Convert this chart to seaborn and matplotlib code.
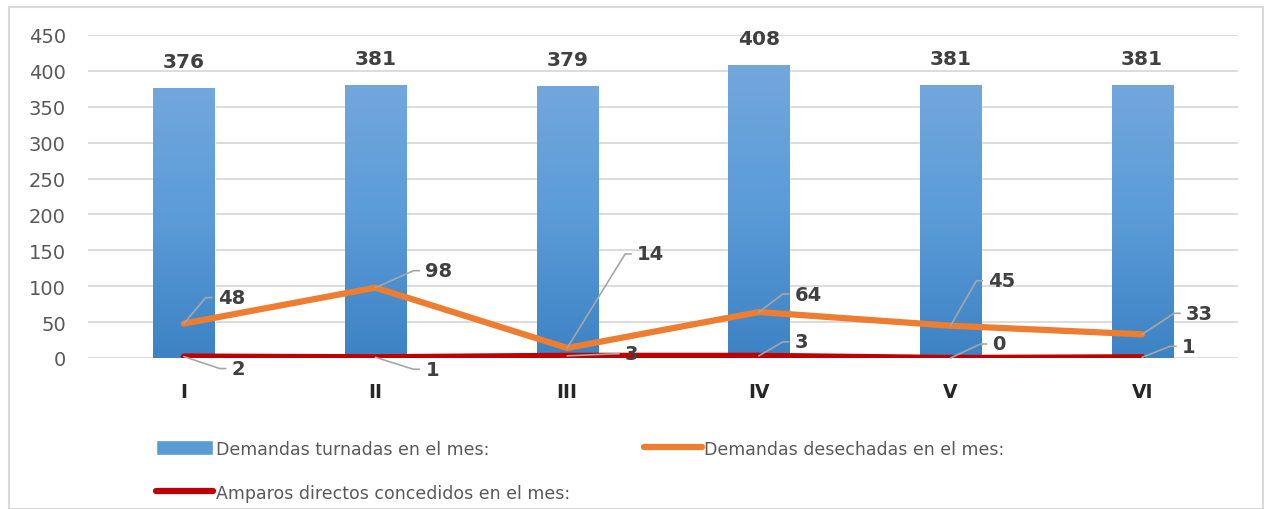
import numpy as np
import pandas as pd
import seaborn as sns
import matplotlib.pyplot as plt
from matplotlib.patches import Rectangle

# Datos
meses = ["I", "II", "III", "IV", "V", "VI"]
turnadas = [376, 381, 379, 408, 381, 381]
desechadas = [48, 98, 14, 64, 45, 33]
amparos = [2, 1, 3, 3, 0, 1]

# desplazamientos de las etiquetas (pixeles) respecto al punto
off_desechadas = [(34, 26), (50, 17), (70, 94), (36, 18), (38, 45), (44, 21)]
off_amparos = [(48, -12), (50, -12), (58, 2), (36, 14), (42, 14), (40, 11)]

sns.set_style("white")
plt.rcParams["font.family"] = ["DejaVu Sans"]

df = pd.DataFrame({"mes": meses, "turnadas": turnadas,
                   "desechadas": desechadas, "amparos": amparos})

fig = plt.figure(figsize=(12.64, 5.10), dpi=100)
ax = fig.add_axes([88 / 1264, 151 / 510, 1150 / 1264, 323 / 510])

sns.barplot(data=df, x="mes", y="turnadas", color="#5b9bd5", saturation=1,
            width=0.32, ax=ax, zorder=2, label="Demandas turnadas en el mes:")

# degradado en las barras
grad = np.linspace(0, 1, 256).reshape(-1, 1)
cmap = sns.blend_palette(["#3d82c4", "#5a9bd8", "#72a7dd"], as_cmap=True)
for p in ax.patches:
    x0, y0 = p.get_x(), p.get_y()
    w, h = p.get_width(), p.get_height()
    im = ax.imshow(grad, cmap=cmap, origin="lower", aspect="auto",
                   extent=(x0, x0 + w, y0, y0 + h), zorder=2.1)
    im.set_clip_path(p)

for c in ax.containers:
    ax.bar_label(c, padding=12, fontsize=14.5, fontweight="bold", color="#404040")

xs = np.arange(len(meses))
ax.plot(xs, desechadas, color="#ed7d31", lw=4.5, solid_capstyle="round",
        zorder=3, label="Demandas desechadas en el mes:")
ax.plot(xs, amparos, color="#c00000", lw=4.5, solid_capstyle="round",
        zorder=4, label="Amparos directos concedidos en el mes:")


def etiqueta(x, y, dx, dy):
    ang = np.degrees(np.arctan2(dy, dx - 12))
    ax.annotate(str(y), xy=(x, y), xytext=(dx, dy), textcoords="offset pixels",
                ha="left", va="center", fontsize=14, fontweight="bold",
                color="#404040", zorder=5,
                arrowprops=dict(arrowstyle="-", color="#a6a6a6", lw=1.2,
                                relpos=(0, 0.5), shrinkA=2, shrinkB=0,
                                connectionstyle=f"angle,angleA=0,angleB={ang}"))


for i in range(len(meses)):
    etiqueta(xs[i], desechadas[i], *off_desechadas[i])
    etiqueta(xs[i], amparos[i], *off_amparos[i])

ax.set_ylim(0, 450)
ax.set_xlim(-0.5, len(meses) - 0.5)
ax.set_yticks(range(0, 451, 50))
ax.yaxis.grid(True, color="#d9d9d9", lw=1.3, zorder=0)
ax.set_axisbelow(True)
ax.set_xlabel("")
ax.set_ylabel("")
ax.tick_params(axis="y", length=0, pad=16, labelsize=14, labelcolor="#595959")
ax.tick_params(axis="x", length=0, pad=17, labelsize=13.5)
for t in ax.get_xticklabels():
    t.set_fontweight("bold")
    t.set_color("#262626")
sns.despine(ax=ax, left=True, bottom=True, top=True, right=True)

h, l = ax.get_legend_handles_labels()
if ax.get_legend() is not None:
    ax.get_legend().remove()
orden = [l.index("Demandas turnadas en el mes:"),
         l.index("Amparos directos concedidos en el mes:"),
         l.index("Demandas desechadas en el mes:")]
leg = fig.legend([h[k] for k in orden], [l[k] for k in orden], ncol=2,
                 loc="upper left", bbox_to_anchor=(140 / 1264, 1 - 425 / 510),
                 frameon=False, fontsize=12.5, handlelength=3.3, handleheight=0.9,
                 handletextpad=0.15, columnspacing=4.3, labelspacing=1.5,
                 labelcolor="#595959")

fig.add_artist(Rectangle((9 / 1264, 0), 1 - 10 / 1264, 1 - 8 / 510,
                         transform=fig.transFigure, fill=False,
                         edgecolor="#d9d9d9", lw=1.5))

fig.savefig("out.png", dpi=100)
